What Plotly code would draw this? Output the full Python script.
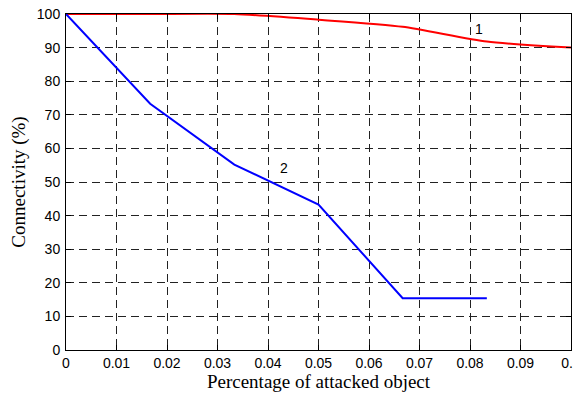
import plotly.graph_objects as go

x_vals = [0, 1/60, 2/60, 3/60, 4/60, 5/60, 6/60]
red_y = [100, 100, 100, 98.3, 96.2, 91.8, 90]
blue_x = [0, 1/60, 2/60, 3/60, 4/60, 5/60]
blue_y = [100, 73.3, 55.2, 43.3, 15.4, 15.4]
x_ticks = [0, 0.01, 0.02, 0.03, 0.04, 0.05, 0.06, 0.07, 0.08, 0.09, 0.1]
x_tick_text = ["0", "0.01", "0.02", "0.03", "0.04", "0.05", "0.06", "0.07", "0.08", "0.09", "0.1"]
y_ticks = [0, 10, 20, 30, 40, 50, 60, 70, 80, 90, 100]
labels = [("1", 0.0818, 95.6), ("2", 0.0432, 54.3)]

fig = go.Figure()
fig.add_trace(go.Scatter(x=x_vals, y=red_y, mode="lines",
                         line=dict(color="#ff0000", width=2, shape="spline", smoothing=0.6),
                         showlegend=False))
fig.add_trace(go.Scatter(x=blue_x, y=blue_y, mode="lines",
                         line=dict(color="#0000ff", width=2),
                         showlegend=False))
for t, xx, yy in labels:
    fig.add_annotation(x=xx, y=yy, text=t, showarrow=False,
                       font=dict(family="Liberation Sans, Arial", size=14, color="black"))

axis_common = dict(showline=True, linecolor="black", linewidth=1, mirror="ticks",
                   ticks="inside", ticklen=5, tickcolor="black",
                   showgrid=True, gridcolor="#222222", griddash="8px,5px", gridwidth=1,
                   zeroline=False, automargin=False, ticklabeloverflow="allow",
                   tickfont=dict(family="Liberation Sans, Arial", size=14, color="black"))

fig.update_xaxes(range=[0, 0.1], tickvals=x_ticks, ticktext=x_tick_text,
                 ticklabelstandoff=0,
                 title=dict(text="Percentage of attacked object", standoff=1,
                            font=dict(family="Liberation Serif, Times New Roman", size=19, color="black")),
                 **axis_common)
fig.update_yaxes(range=[0, 100], tickvals=y_ticks, ticklabelstandoff=2,
                 title=dict(text="Connectivity (%)", standoff=8,
                            font=dict(family="Liberation Serif, Times New Roman", size=19, color="black")),
                 **axis_common)

# page body has an 8px default margin; size the figure so the plot area lands where the reference has it
fig.update_layout(width=573, height=386, margin=dict(l=58, r=10, t=6, b=44),
                  paper_bgcolor="white", plot_bgcolor="white")
fig.write_html("out.html")
